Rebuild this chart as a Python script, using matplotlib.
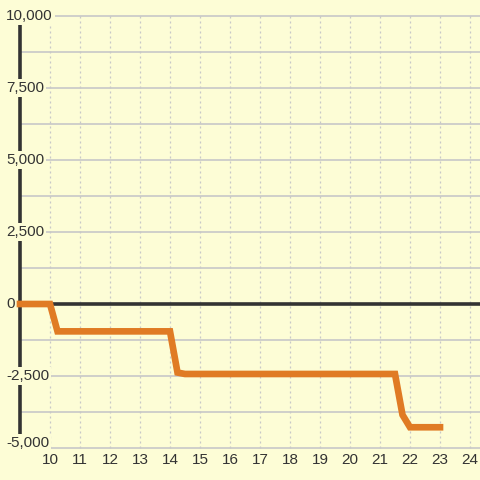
import matplotlib
matplotlib.use("Agg")
import matplotlib.pyplot as plt

# data
hours = [9, 10, 10.25, 14, 14.25, 14.5, 21.5, 21.75, 22, 23]
values = [0, 0, -950, -950, -2380, -2430, -2430, -3850, -4280, -4280]
y_ticks = [-5000, -2500, 0, 2500, 5000, 7500, 10000]
x_ticks = list(range(10, 25))

bg = "#fdfdd6"
grid_col = "#c8c8c8"
dark = "#333333"
orange = "#e07b24"

plt.rcParams["font.family"] = ["Liberation Sans", "DejaVu Sans"]

fig = plt.figure(figsize=(4.8, 4.8), dpi=100, facecolor=bg)
ax = fig.add_axes([0, 0, 1, 1])
ax.set_facecolor(bg)
ax.set_xlim(8 + 1 / 3, 24 + 1 / 3)
ax.set_ylim(-5000 - 32 * 1250 / 36, 10000 + 16 * 1250 / 36)
ax.axis("off")

# horizontal grid every 1250
for v in range(-5000, 10001, 1250):
    ax.plot([9, 24.4], [v, v], color=grid_col, lw=1.2, zorder=1)
# vertical dotted grid
for x in x_ticks:
    ax.plot([x, x], [-5000, 10000], color=grid_col, lw=0.9, ls=(0, (1.6, 2.4)), zorder=1)

# left axis line and zero line
ax.plot([9, 9], [-5000, 10000], color=dark, lw=2.6, zorder=2)
ax.plot([9, 24.4], [0, 0], color=dark, lw=2.6, zorder=2)

ax.plot(hours, values, color=orange, lw=4.8, solid_joinstyle="miter", zorder=5)

for v in y_ticks:
    # bottom label sits a bit above its gridline
    y = v + 170 if v == -5000 else v
    ax.text(8.333 + 6 / 30, y, f"{v:,}", ha="left", va="center", fontsize=11, color=dark,
            zorder=4, bbox=dict(facecolor=bg, edgecolor="none", pad=1.5))
for x in x_ticks:
    ax.text(x, -5000 - 12.5 * 1250 / 36, str(x), ha="center", va="center",
            fontsize=11, color=dark, zorder=4)

fig.savefig("out.png", dpi=100, facecolor=bg)
